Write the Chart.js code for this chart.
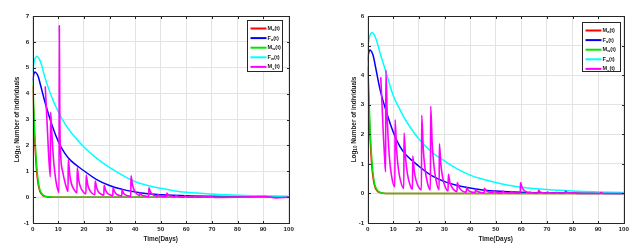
<!DOCTYPE html>
<html>
<head>
<meta charset="utf-8">
<script src="https://cdn.jsdelivr.net/npm/chart.js@4.4.0/dist/chart.umd.min.js"></script>
<style>
  body { margin: 0; background: #fff; }
  canvas { position: absolute; top: 0; }
  #left { left: 0; }
  #right { left: 319px; }
</style>
</head>
<body>
<canvas id="left" width="319" height="249"></canvas>
<canvas id="right" width="319" height="249"></canvas>
<script>
// Series names (letter + subscript), as in the legend
const seriesLetters = ['M', 'F', 'M', 'F', 'M'];
const seriesSubs = ['a', 'a', 'w', 'w', 's'];
const seriesColors = ['#ff0000', '#0000ff', '#00e600', '#00ffff', '#ff00ff'];

const xTicks = [0, 10, 20, 30, 40, 50, 60, 70, 80, 90, 100];

// [day, log10 value]
const maleAquatic = [[0,4.3],[0.3,3.4],[0.6,2.6],[1,1.8],[1.5,1.05],[2,0.6],[2.5,0.33],[3,0.18],[4,0.06],[5,0.02],[7,0],[100,0]];
const maleWild = [[0,4.5],[0.3,3.8],[0.6,3.0],[1,2.1],[1.5,1.3],[2,0.75],[2.5,0.42],[3,0.23],[4,0.08],[5,0.03],[6,0.01],[8,0],[100,0]];

const femaleAquaticLeft = [[0,4.5],[0.5,4.78],[1,4.83],[2,4.7],[3,4.35],[5,3.6],[7.5,2.8],[10,2.15],[12.5,1.7],[15,1.4],[20,1.02],[25,0.68],[30,0.45],[35,0.3],[40,0.2],[45,0.13],[50,0.09],[60,0.05],[70,0.03],[80,0.02],[100,0.01]];
const femaleWildLeft = [[0,4.85],[0.5,5.2],[1,5.37],[1.8,5.44],[3,5.25],[5,4.55],[7.5,3.85],[10,3.3],[12.5,2.85],[15,2.5],[20,1.94],[25,1.5],[30,1.15],[35,0.85],[40,0.6],[45,0.45],[50,0.34],[55,0.25],[60,0.19],[70,0.12],[80,0.07],[90,0.05],[100,0.03]];
const sterileLeft = [
  [4.9,4.28],[5.3,3.5],[5.8,2.5],[6.3,1.5],[6.9,0.78],
  [7.0,3.28],[7.3,2.8],[8.05,1.56],[8.7,0.9],[9.4,0.45],[10.3,0.18],
  [10.4,6.62],[10.6,3.0],[10.9,1.7],[11.8,0.95],[12.8,0.5],[13.8,0.22],
  [13.9,1.46],[14.5,0.85],[15.2,0.5],[16.1,0.3],[17.3,0.16],
  [17.4,1.14],[18.0,0.65],[18.7,0.38],[19.6,0.22],[20.8,0.12],
  [20.9,0.85],[21.5,0.48],[22.2,0.28],[23.1,0.16],[24.3,0.09],
  [24.4,0.62],[25,0.35],[25.7,0.2],[26.6,0.12],[27.8,0.07],
  [27.9,0.46],[28.5,0.26],[29.2,0.15],[30.1,0.09],[31.3,0.05],
  [31.4,0.36],[32,0.2],[32.7,0.12],[33.6,0.07],[34.8,0.04],
  [34.9,0.28],[35.5,0.15],[36.2,0.09],[37.1,0.05],[38.3,0.03],
  [38.4,0.82],[39,0.46],[39.7,0.26],[40.6,0.13],[41.8,0.06],
  [41.9,0.16],[42.5,0.09],[43.4,0.05],[45.3,0.02],
  [45.4,0.36],[46,0.2],[46.7,0.11],[47.6,0.06],[48.8,0.03],
  [48.9,0.1],[49.6,0.05],[50.6,0.03],[52.3,0.01],
  [52.4,0.16],[53,0.08],[54,0.04],[55.8,0.01],
  [55.9,0.06],[57,0.02],[59.3,0.0],
  [59.4,0.05],[60.5,0.01],[62.9,0.0],
  [63,0.04],[64,0.0],[66.4,0.0],[66.5,0.03],[67.5,0.0],[70,0.02],[71,-0.01],[80,0.0],[85,0.01],[91,0.02],[95,-0.03],[100,0.0]
];

const femaleAquaticRight = [[0,4.5],[0.5,4.8],[1,4.85],[2,4.7],[3,4.3],[5,3.45],[7.5,2.7],[10,2.07],[12.5,1.6],[15,1.3],[20,0.92],[25,0.6],[30,0.4],[35,0.27],[40,0.18],[45,0.12],[50,0.08],[60,0.04],[70,0.02],[80,0.01],[100,0.0]];
const femaleWildRight = [[0,4.85],[0.5,5.2],[1,5.38],[1.8,5.44],[3,5.28],[5,4.7],[7.5,4.0],[10,3.3],[12.5,2.85],[15,2.45],[20,1.84],[25,1.4],[30,1.1],[35,0.83],[40,0.62],[45,0.48],[50,0.37],[55,0.28],[60,0.21],[70,0.13],[80,0.08],[90,0.05],[100,0.03]];
const sterileRight = [
  [5.1,3.93],[5.6,3.0],[6.1,2.0],[6.6,1.2],[7.0,0.73],
  [7.1,4.17],[7.7,2.4],[8.4,1.3],[9.3,0.6],[10.6,0.22],
  [10.7,2.49],[11.3,1.45],[12.0,0.82],[12.9,0.4],[14.1,0.17],
  [14.2,2.05],[14.8,1.19],[15.5,0.67],[16.4,0.33],[17.5,0.14],
  [17.6,1.26],[18.2,0.75],[18.9,0.44],[19.8,0.23],[21.0,0.12],
  [21.1,2.64],[21.7,1.51],[22.4,0.83],[23.3,0.37],[24.5,0.12],
  [24.6,2.95],[25.2,1.68],[25.9,0.91],[26.8,0.4],[27.9,0.12],
  [28.0,1.68],[28.6,0.96],[29.3,0.53],[30.2,0.24],[31.4,0.08],
  [31.5,0.65],[32.1,0.38],[32.8,0.23],[33.7,0.12],[34.9,0.06],
  [35.0,0.37],[35.6,0.22],[36.3,0.13],[37.2,0.07],[38.5,0.04],
  [38.6,0.2],[39.3,0.11],[40.2,0.06],[42.0,0.03],
  [42.1,0.13],[42.8,0.07],[43.8,0.04],[45.5,0.02],
  [45.6,0.17],[46.3,0.09],[47.3,0.05],[49.0,0.02],
  [49.1,0.09],[50,0.04],[52.5,0.01],
  [52.6,0.08],[53.5,0.03],[56,0.01],
  [56.1,0.06],[57,0.02],[59.6,0.01],
  [59.7,0.37],[60.3,0.2],[61.1,0.1],[62,0.05],[63.1,0.02],
  [63.2,0.05],[64,0.02],[66.6,0.01],
  [66.7,0.11],[67.4,0.05],[68.5,0.02],[70.1,0.01],
  [70.2,0.05],[71,0.02],[73.6,0.01],
  [73.7,0.04],[74.5,0.01],[77.1,0.01],
  [77.2,0.08],[78,0.03],[80.6,0.01],
  [80.7,0.03],[82,0.0],[90.9,0.0],[91,0.03],[92,0.0],[100,0.0]
];

const FONT = '"Liberation Sans", Arial, sans-serif';
const INK = '#1a1a1a';

// draws "Main" + subscript + rest starting at x (left aligned, middle baseline)
function drawSubText(ctx, x, y, main, sub, rest, size) {
    ctx.font = 'bold ' + size + 'px ' + FONT;
    ctx.fillText(main, x, y);
    x += ctx.measureText(main).width;
    ctx.font = 'bold ' + (size * 0.72) + 'px ' + FONT;
    ctx.fillText(sub, x, y + size * 0.3);
    x += ctx.measureText(sub).width;
    ctx.font = 'bold ' + size + 'px ' + FONT;
    ctx.fillText(rest, x, y);
}

function subTextWidth(ctx, main, sub, rest, size) {
    ctx.font = 'bold ' + size + 'px ' + FONT;
    let w = ctx.measureText(main).width + ctx.measureText(rest).width;
    ctx.font = 'bold ' + (size * 0.72) + 'px ' + FONT;
    return w + ctx.measureText(sub).width;
}

const framePlugin = {
    id: 'frame',
    afterDraw(chart) {
        const o = chart.options.plugins.frame;
        const { ctx, chartArea: a, scales } = chart;
        const l = Math.round(a.left) + 0.5, r = Math.round(a.right) + 0.5;
        const t = Math.round(a.top) + 0.5, b = Math.round(a.bottom) + 0.5;
        ctx.save();
        ctx.strokeStyle = '#262626';
        ctx.lineWidth = 1;
        ctx.strokeRect(l, t, r - l, b - t);
        // inward tick marks on all sides
        ctx.beginPath();
        scales.x.ticks.forEach(tk => {
            const px = Math.round(scales.x.getPixelForValue(tk.value)) + 0.5;
            ctx.moveTo(px, b); ctx.lineTo(px, b - 2.5);
            ctx.moveTo(px, t); ctx.lineTo(px, t + 2.5);
        });
        scales.y.ticks.forEach(tk => {
            const py = Math.round(scales.y.getPixelForValue(tk.value)) + 0.5;
            ctx.moveTo(l, py); ctx.lineTo(l + 2.5, py);
            ctx.moveTo(r, py); ctx.lineTo(r - 2.5, py);
        });
        ctx.stroke();

        // y axis title with subscript
        ctx.fillStyle = INK;
        ctx.textBaseline = 'middle';
        ctx.save();
        ctx.translate(a.left - o.titleGap, (a.top + a.bottom) / 2);
        ctx.rotate(-Math.PI / 2);
        const tw = subTextWidth(ctx, 'Log', '10', ' Number of individuals', 6.4);
        drawSubText(ctx, -tw / 2, 0, 'Log', '10', ' Number of individuals', 6.4);
        ctx.restore();

        // legend box
        const lx = Math.round(a.right - o.legendRight - o.legendW) + 0.5;
        const ly = Math.round(a.top + o.legendTop) + 0.5;
        ctx.fillStyle = '#fff';
        ctx.fillRect(lx, ly, o.legendW, o.legendH);
        ctx.strokeStyle = '#262626';
        ctx.strokeRect(lx, ly, o.legendW, o.legendH);
        seriesLetters.forEach((m, i) => {
            const yy = ly + 8 + i * 9.6;
            ctx.strokeStyle = seriesColors[i];
            ctx.lineWidth = 2;
            ctx.beginPath();
            ctx.moveTo(lx + 3, yy); ctx.lineTo(lx + 19, yy);
            ctx.stroke();
            ctx.fillStyle = INK;
            drawSubText(ctx, lx + 20, yy, m, seriesSubs[i], '(t)', 5.6);
        });
        ctx.restore();
    }
};

function makeChart(id, yMax, series, frameOpts, padRight, yWidth) {
    const datasets = series.map((pts, i) => ({
        label: seriesLetters[i] + seriesSubs[i] + '(t)',
        data: pts.map(([x, y]) => ({ x, y })),
        borderColor: seriesColors[i],
        borderWidth: i === 4 ? 1.6 : 1.5,
        pointRadius: 0,
        tension: i === 4 ? 0 : 0.4,
        cubicInterpolationMode: i === 4 ? 'monotone' : 'default',
        order: 5 - i
    }));
    const tickFont = { size: 6.2, family: FONT, weight: 'bold' };
    new Chart(document.getElementById(id), {
        type: 'line',
        data: { datasets },
        options: {
            responsive: false,
            animation: false,
            devicePixelRatio: 1,
            layout: { padding: { top: 16, right: padRight, left: 0, bottom: 0 } },
            plugins: {
                legend: { display: false },
                tooltip: { enabled: false },
                frame: frameOpts
            },
            scales: {
                x: {
                    type: 'linear',
                    min: 0, max: 100,
                    afterBuildTicks: s => { s.ticks = xTicks.map(v => ({ value: v })); },
                    afterFit: s => { s.height = 26; },
                    grid: { color: '#e3e3e3', drawTicks: false },
                    border: { display: false },
                    ticks: { font: tickFont, color: INK, padding: 3, maxRotation: 0, autoSkip: false },
                    title: { display: true, text: 'Time(Days)', font: { size: 6.4, family: FONT, weight: 'bold' }, color: INK, padding: { top: 2, bottom: 6 } }
                },
                y: {
                    min: -1, max: yMax,
                    ticks: { stepSize: 1, font: tickFont, color: INK, padding: 3.5 },
                    afterFit: s => { s.width = yWidth; },
                    grid: { color: '#e3e3e3', drawTicks: false },
                    border: { display: false }
                }
            }
        },
        plugins: [framePlugin]
    });
}

makeChart('left', 7,
    [maleAquatic, femaleAquaticLeft, maleWild, femaleWildLeft, sterileLeft],
    { titleGap: 15.7, legendRight: 6.5, legendTop: 3.5, legendW: 35, legendH: 51 },
    30.3, 32.7);

makeChart('right', 6,
    [maleAquatic, femaleAquaticRight, maleWild, femaleWildRight, sterileRight],
    { titleGap: 13.7, legendRight: 4, legendTop: 6, legendW: 38, legendH: 49 },
    14.3, 48.7);
</script>
</body>
</html>
